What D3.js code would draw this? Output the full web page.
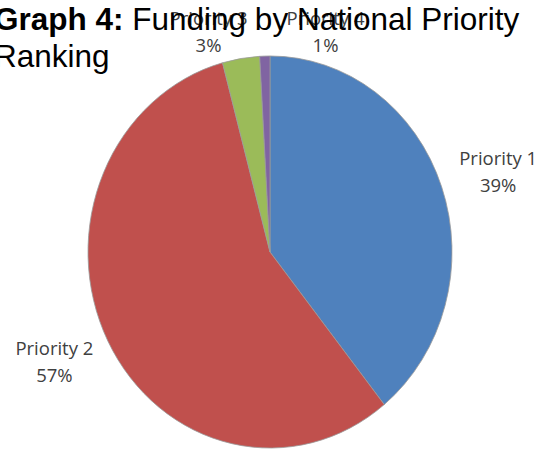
<!DOCTYPE html>
<html>
<head>
<meta charset="utf-8">
<script src="https://cdn.jsdelivr.net/npm/d3@7"></script>
<style>
  html, body { margin: 0; padding: 0; background: #fff; }
  svg { display: block; }
</style>
</head>
<body>
<svg id="chart" width="543" height="450"></svg>
<script>
// ---- data ----
const categories = ["Priority 1", "Priority 2", "Priority 3", "Priority 4"];
const values = [39.2, 56.6, 3.3, 0.9];
const percentLabels = ["39%", "57%", "3%", "1%"];
const colors = ["#4F81BD", "#C0504D", "#9BBB59", "#8064A2"];
const titleBold = "Graph 4:";
const titleRest = " Funding by National Priority";
const titleLine2 = "Ranking";

// ---- layout ----
const W = 543, H = 450;
const cx = 270, cy = 252;
const rx = 182, ry = 196;
const labelR = 242;

const svg = d3.select("#chart");

const data = categories.map((c, i) => ({ cat: c, value: values[i], pct: percentLabels[i], color: colors[i] }));

const pie = d3.pie().value(d => d.value).sort(null);
const arcs = pie(data);
const arc = d3.arc().innerRadius(0).outerRadius(rx);
const labelArc = d3.arc().innerRadius(labelR).outerRadius(labelR);

const g = svg.append("g")
  .attr("transform", `translate(${cx},${cy}) scale(1,${ry / rx})`);

g.selectAll("path")
  .data(arcs)
  .join("path")
  .attr("d", arc)
  .attr("fill", d => d.data.color)
  .attr("stroke", "#9a9a9a")
  .attr("stroke-width", 0.8)
  .attr("vector-effect", "non-scaling-stroke");

// label positions
const labelPos = arcs.map(a => {
  const [x, y] = labelArc.centroid(a);
  return { a, x: cx + x, y: cy + y };
});
// clamp near the top and spread crowded labels around the pie's centre
const minY = 31;
const topLabels = labelPos.filter(l => l.y < minY + 10);
topLabels.forEach(l => { l.y = minY; });
if (topLabels.length > 1) {
  const gap = 117;
  topLabels.sort((p, q) => p.x - q.x);
  const start = cx - 3 - gap * (topLabels.length - 1) / 2;
  topLabels.forEach((l, i) => { l.x = start + i * gap; });
}

const lbl = svg.append("g")
  .attr("font-family", "'Open Sans', 'Noto Sans', sans-serif")
  .attr("font-size", 18.5)
  .attr("fill", "#404040")
  .attr("text-anchor", "middle");

labelPos.forEach(l => {
  const t = lbl.append("text");
  t.append("tspan").attr("x", l.x).attr("y", l.y - 6.5).text(l.a.data.cat);
  t.append("tspan").attr("x", l.x).attr("y", l.y + 20.5).text(l.a.data.pct);
});

// title
const title = svg.append("text")
  .attr("font-family", "'Liberation Sans', Arial, sans-serif")
  .attr("font-size", 31.5)
  .attr("fill", "#000");
title.append("tspan").attr("x", -6).attr("y", 30).attr("font-weight", "bold").text(titleBold);
title.append("tspan").text(titleRest);
title.append("tspan").attr("x", -6).attr("y", 67).text(titleLine2);
</script>
</body>
</html>
